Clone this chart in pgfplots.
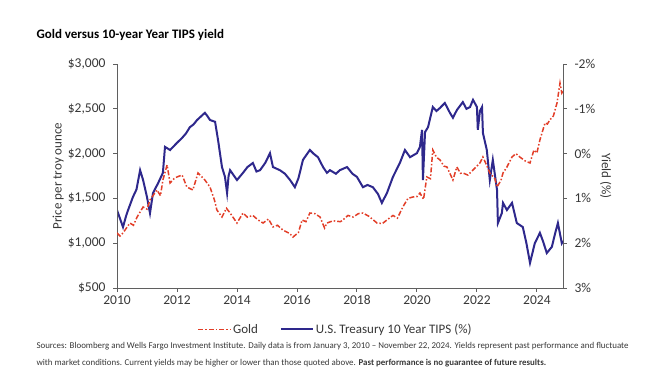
\documentclass[border=0pt]{standalone}
\usepackage{pgfplots}
\pgfplotsset{compat=1.18}
\usepackage{fontspec}
\setmainfont{Carlito}
\definecolor{goldred}{RGB}{226,62,40}
\definecolor{tipsblue}{RGB}{46,40,140}
\definecolor{axgray}{RGB}{95,95,95}
\definecolor{txt}{RGB}{55,55,55}

\pgfplotstableread{
x y
2010.00 1114
2010.10 1080
2010.20 1114
2010.43 1225
2010.55 1200
2010.67 1292
2010.87 1404
2011.00 1380
2011.10 1482
2011.33 1594
2011.45 1530
2011.53 1705
2011.67 1873
2011.77 1672
2011.90 1720
2012.00 1739
2012.17 1761
2012.33 1627
2012.53 1594
2012.70 1784
2012.80 1750
2012.93 1705
2013.10 1627
2013.25 1480
2013.33 1371
2013.50 1292
2013.65 1390
2013.77 1337
2014.00 1225
2014.20 1337
2014.35 1290
2014.53 1310
2014.70 1260
2014.87 1225
2015.05 1270
2015.20 1181
2015.35 1200
2015.53 1147
2015.75 1110
2015.87 1069
2016.05 1120
2016.17 1259
2016.30 1240
2016.43 1337
2016.60 1330
2016.77 1292
2016.92 1170
2017.00 1225
2017.20 1250
2017.45 1240
2017.53 1259
2017.70 1310
2017.87 1292
2018.05 1330
2018.20 1337
2018.40 1300
2018.67 1225
2018.85 1220
2019.00 1259
2019.20 1310
2019.35 1280
2019.53 1404
2019.70 1500
2019.87 1516
2020.00 1520
2020.10 1560
2020.22 1490
2020.33 1739
2020.45 1720
2020.53 2040
2020.65 1960
2020.77 1929
2020.90 1860
2021.00 1851
2021.20 1705
2021.33 1851
2021.45 1780
2021.53 1784
2021.70 1760
2021.87 1817
2022.10 1895
2022.20 1962
2022.35 1850
2022.43 1784
2022.60 1720
2022.67 1627
2022.80 1700
2022.87 1784
2023.00 1850
2023.17 1962
2023.30 2000
2023.43 1962
2023.60 1920
2023.77 1895
2023.90 2040
2024.00 2007
2024.10 2152
2024.27 2342
2024.35 2330
2024.43 2375
2024.55 2420
2024.67 2565
2024.77 2788
2024.83 2676
2024.87 2700
}\golddata

\pgfplotstableread{
x y
2010.00 1.26
2010.10 1.45
2010.20 1.64
2010.30 1.40
2010.37 1.26
2010.53 0.97
2010.65 0.80
2010.77 0.37
2010.87 0.59
2011.00 0.97
2011.10 1.33
2011.20 0.88
2011.37 0.66
2011.53 0.43
2011.60 -0.15
2011.77 -0.08
2012.00 -0.24
2012.17 -0.35
2012.30 -0.45
2012.43 -0.59
2012.55 -0.65
2012.67 -0.75
2012.93 -0.91
2013.00 -0.85
2013.10 -0.75
2013.27 -0.71
2013.37 -0.30
2013.50 0.30
2013.60 0.52
2013.67 0.88
2013.72 0.50
2013.77 0.37
2014.00 0.59
2014.20 0.43
2014.35 0.30
2014.53 0.21
2014.65 0.40
2014.77 0.37
2014.95 0.20
2015.10 -0.01
2015.20 0.30
2015.43 0.37
2015.60 0.45
2015.77 0.59
2015.93 0.75
2016.05 0.55
2016.20 0.14
2016.43 -0.08
2016.55 0.00
2016.70 0.08
2016.87 0.30
2017.00 0.43
2017.10 0.37
2017.30 0.45
2017.43 0.37
2017.67 0.30
2017.85 0.45
2018.00 0.52
2018.20 0.75
2018.35 0.70
2018.53 0.75
2018.70 0.90
2018.83 1.10
2019.00 0.88
2019.20 0.52
2019.43 0.21
2019.60 -0.08
2019.77 0.08
2020.00 -0.01
2020.10 -0.15
2020.17 -0.53
2020.20 0.59
2020.27 -0.48
2020.37 -0.59
2020.53 -1.04
2020.65 -0.95
2020.77 -1.02
2020.93 -1.13
2021.10 -0.91
2021.20 -0.80
2021.33 -0.97
2021.53 -1.15
2021.65 -1.00
2021.77 -1.04
2021.87 -1.20
2022.00 -1.04
2022.03 -0.53
2022.10 -0.95
2022.17 -1.04
2022.20 -0.46
2022.33 -0.08
2022.43 0.59
2022.53 0.14
2022.67 0.81
2022.70 1.55
2022.83 1.33
2022.87 1.10
2023.00 1.26
2023.17 1.10
2023.33 1.55
2023.53 1.64
2023.65 2.00
2023.77 2.44
2023.93 2.00
2024.10 1.77
2024.20 1.95
2024.33 2.22
2024.50 2.08
2024.60 1.80
2024.70 1.55
2024.83 2.00
2024.87 1.95
}\tipsdata

\pgfplotsset{
  goldstyle/.style={goldred, line width=1.5pt, dash pattern=on 5pt off 2pt on 1.5pt off 2pt},
  tipsstyle/.style={tipsblue, line width=2pt},
  common/.style={
    at={(117pt,86pt)}, anchor=south west, width=446pt, height=224pt, scale only axis,
    xmin=2010, xmax=2024.87,
    axis line style={axgray, line width=0.9pt},
    tick style={axgray, line width=0.9pt},
    major tick length=4pt,
    tick align=outside,
    ticklabel style={font=\fontsize{13.5}{15}\selectfont, text=txt},
    label style={font=\fontsize{13}{15}\selectfont, text=txt},
  }
}

\begin{document}
\begin{tikzpicture}[x=1pt,y=1pt]
\path[use as bounding box] (0pt,0pt) rectangle (648pt,374pt);
\node[anchor=west, font=\fontsize{13}{15}\selectfont\bfseries, text=black] at (33pt,339pt) {Gold versus 10-year Year TIPS yield};

% TIPS (right axis)
\begin{axis}[common,
  ymin=-2, ymax=3, y dir=reverse,
  axis x line=none, axis y line*=right,
  ytick={-2,-1,0,1,2,3},
  yticklabels={-2\%,-1\%,0\%,1\%,2\%,3\%},
  yticklabel style={anchor=west, xshift=4pt},
  ylabel={Yield (\%)},
  ylabel style={at={(axis description cs:1.096,0.5)}, anchor=center, rotate=180},
]
\addplot[tipsstyle] table[x=x,y=y] {\tipsdata};
\end{axis}

% Gold (left axis)
\begin{axis}[common,
  ymin=500, ymax=3000,
  axis x line*=bottom, axis y line*=left,
  xtick={2010,2012,2014,2016,2018,2020,2022,2024},
  xticklabels={2010,2012,2014,2016,2018,2020,2022,2024},
  ytick={500,1000,1500,2000,2500,3000},
  yticklabels={\$500,{\$1,000},{\$1,500},{\$2,000},{\$2,500},{\$3,000}},
  yticklabel style={anchor=east, xshift=-4pt},
  ylabel={Price per troy ounce},
  ylabel style={at={(axis description cs:-0.132,0.5)}, anchor=center},
  legend style={at={(axis description cs:0.49,-0.185)}, anchor=center, draw=none, fill=none,
    legend columns=2, font=\fontsize{13}{15}\selectfont, text=txt,
    /tikz/every even column/.append style={column sep=20pt}},
  legend image code/.code={\draw[#1] (0pt,0pt) -- (32pt,0pt);},
]
\addplot[goldstyle] table[x=x,y=y] {\golddata};
\addlegendentry{Gold}
\addlegendimage{tipsstyle}
\addlegendentry{U.S. Treasury 10 Year TIPS (\%)}
\end{axis}

\node[anchor=base west, font=\fontsize{8.9}{10}\selectfont, text=txt] at (33pt,25pt) {Sources: Bloomberg and Wells Fargo Investment Institute. Daily data is from January 3, 2010 -- November 22, 2024. Yields represent past performance and fluctuate};
\node[anchor=base west, font=\fontsize{8.9}{10}\selectfont, text=txt] at (33pt,8pt) {with market conditions. Current yields may be higher or lower than those quoted above. \textbf{Past performance is no guarantee of future results.}};
\end{tikzpicture}
\end{document}
